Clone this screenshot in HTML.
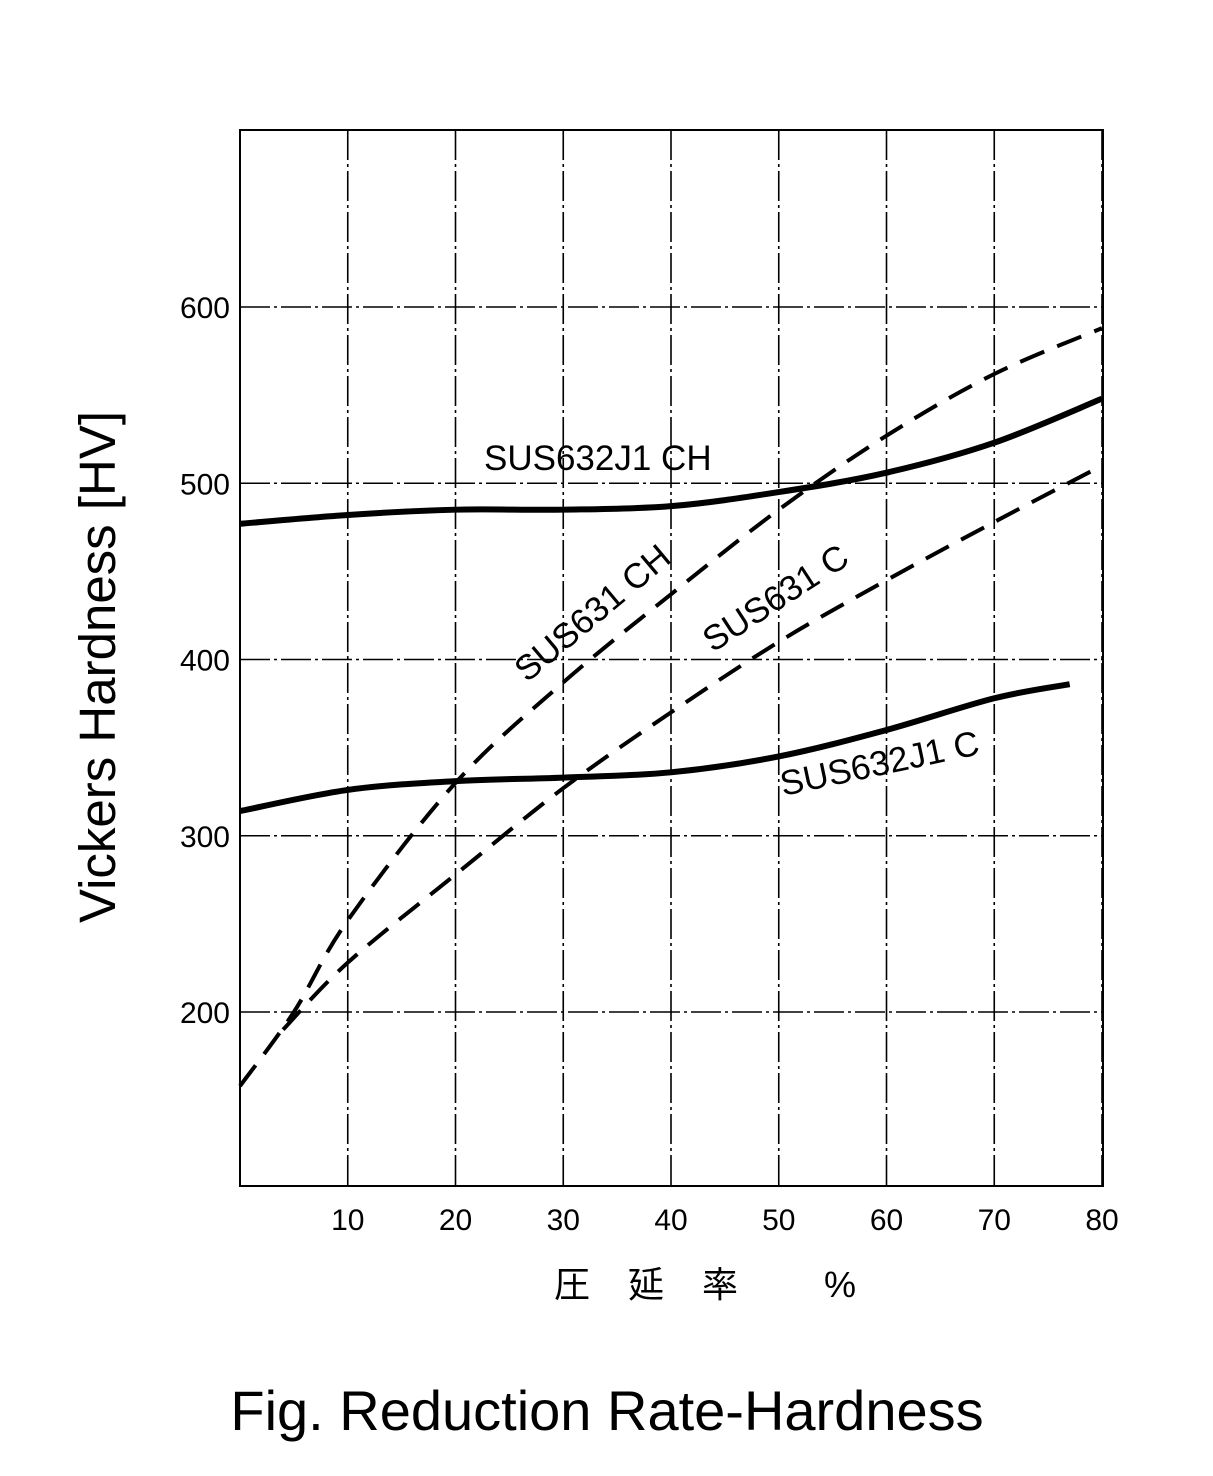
<!DOCTYPE html>
<html><head><meta charset="utf-8"><style>
html,body{margin:0;padding:0;background:#fff;}
svg{display:block;}
text{font-family:"Liberation Sans","Noto Sans CJK JP",sans-serif;fill:#000;}
</style></head><body>
<svg id="chart" width="1213" height="1476" viewBox="0 0 1213 1476">
<g id="grid"></g>
<rect x="240" y="130" width="863" height="1056" fill="none" stroke="#000" stroke-width="2"/>
<g id="ticks"></g>
<g id="series"></g>
<text x="484" y="470" font-size="35">SUS632J1  CH</text>
<text transform="translate(600,622) rotate(-40)" font-size="35" text-anchor="middle">SUS631 CH</text>
<text transform="translate(782,608) rotate(-33)" font-size="35" text-anchor="middle">SUS631 C</text>
<text transform="translate(882,775) rotate(-12)" font-size="35" text-anchor="middle">SUS632J1 C</text>
<text transform="translate(115,667) rotate(-90)" font-size="51" text-anchor="middle">Vickers Hardness [HV]</text>
<text x="712" y="1297" font-size="36" text-anchor="middle" letter-spacing="14" xml:space="preserve">圧 延 率   %</text>
<text x="607" y="1430" font-size="56" text-anchor="middle">Fig. Reduction Rate-Hardness</text>
</svg>
<script>
const xTicks=[10,20,30,40,50,60,70,80];
const yTicks=[200,300,400,500,600];
const s632chX=[0,10,20,30,40,50,60,70,80];
const s632chY=[477,482,485,485,487,495,506,523,548];
const s632cX=[0,10,20,30,40,50,60,70,77];
const s632cY=[314,326,331,333,336,345,360,378,386];
const s631chX=[0,5,10,20,30,40,50,60,70,80];
const s631chY=[158,200,252,330,387,437,485,527,562,588];
const s631cX=[4,10,20,30,40,50,60,70,80];
const s631cY=[190,228,278,327,370,410,445,478,510];
const sx=v=>240+v*10.775;
const sy=v=>1012-(v-200)*1.7625;
const NS='http://www.w3.org/2000/svg';
const grid=document.getElementById('grid'),ticks=document.getElementById('ticks'),series=document.getElementById('series');
function line(x1,y1,x2,y2){const l=document.createElementNS(NS,'line');l.setAttribute('x1',x1);l.setAttribute('y1',y1);l.setAttribute('x2',x2);l.setAttribute('y2',y2);l.setAttribute('stroke','#000');l.setAttribute('stroke-width','1.6');l.setAttribute('stroke-dasharray','30 4 3 4');return l;}
xTicks.forEach(v=>{const l=line(sx(v),130,sx(v),1186);


grid.appendChild(l);
const t=document.createElementNS(NS,'text');t.setAttribute('x',sx(v));t.setAttribute('y',1230);t.setAttribute('font-size','30');t.setAttribute('text-anchor','middle');t.textContent=v;


ticks.appendChild(t);});
yTicks.forEach(v=>{const l=line(240,sy(v),1103,sy(v));


grid.appendChild(l);
const t=document.createElementNS(NS,'text');t.setAttribute('x',230);t.setAttribute('y',sy(v)+11);t.setAttribute('font-size','30');t.setAttribute('text-anchor','end');t.textContent=v;


ticks.appendChild(t);});
function path(xs,ys,dashed,name){
const pts=xs.map((x,i)=>[sx(x),sy(ys[i])]);
let d='M'+pts[0][0]+','+pts[0][1];
for(let i=0;i<pts.length-1;i++){const p0=pts[i-1]||pts[i],p1=pts[i],p2=pts[i+1],p3=pts[i+2]||p2;
d+=' C'+(p1[0]+(p2[0]-p0[0])/6)+','+(p1[1]+(p2[1]-p0[1])/6)+' '+(p2[0]-(p3[0]-p1[0])/6)+','+(p2[1]-(p3[1]-p1[1])/6)+' '+p2[0]+','+p2[1];}
const p=document.createElementNS(NS,'path');p.setAttribute('d',d);p.setAttribute('fill','none');p.setAttribute('stroke','#000');p.setAttribute('stroke-width',dashed?'4':'6');
if(dashed)p.setAttribute('stroke-dasharray','26 14');


series.appendChild(p);}
path(s632chX,s632chY,false,'line-sus632j1-ch');
path(s632cX,s632cY,false,'line-sus632j1-c');
path(s631chX,s631chY,true,'line-sus631-ch');
path(s631cX,s631cY,true,'line-sus631-c');
</script>
</body></html>
